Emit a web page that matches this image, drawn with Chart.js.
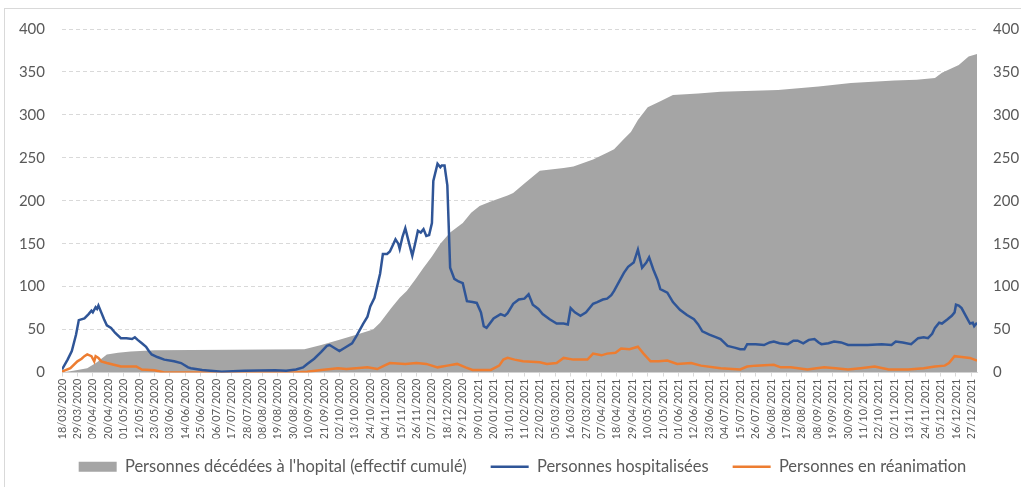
<!DOCTYPE html>
<html>
<head>
<meta charset="utf-8">
<script src="https://cdn.jsdelivr.net/npm/chart.js@4.4.0/dist/chart.umd.min.js"></script>
<style>
  html, body { margin: 0; background: #fff; overflow: hidden; }
  #frame { position: absolute; left: 4px; top: 8px; width: 1040px; height: 500px; border: 1px solid #d9d9d9; }
  #wrap { position: absolute; left: 0; top: 0; width: 1021px; height: 487px; }
</style>
</head>
<body>
<div id="frame"></div>
<div id="wrap"><canvas id="chart1"></canvas></div>
<script>
// days counted from 18/03/2020
const deathDays = [0, 8, 18, 25, 32, 40, 49, 66, 120, 173, 185, 198, 210, 222, 227, 235, 241, 246, 252, 258, 264, 270, 277, 286, 292, 298, 306, 318, 322, 330, 341, 358, 365, 379, 389, 394, 401, 406, 411, 418, 427, 436, 454, 470, 511, 540, 563, 594, 610, 623, 628, 640, 647, 653];
const deathValues = [0, 2, 5, 12, 21, 23, 24.5, 26, 26.5, 27, 32, 38, 44, 50, 58, 75, 87, 95, 108, 122, 135, 150, 163, 174, 186, 194, 199, 206, 209, 220, 235, 238, 240, 248, 256, 260, 272, 280, 294, 309, 316, 323, 325, 327, 329, 333, 337, 340, 341, 343, 349, 358, 368, 371];

const hospDays = [0, 4, 7, 10, 12, 16, 19, 21, 22, 24, 25, 26, 28, 30, 32, 35, 38, 42, 46, 50, 52, 54, 57, 60, 62, 64, 68, 73, 80, 85, 90, 92, 100, 114, 130, 152, 160, 167, 172, 175, 180, 185, 189, 191, 195, 198, 203, 207, 210, 215, 218, 220, 223, 227, 229, 232, 234, 236, 238, 240, 241, 243, 245, 247, 250, 252, 254, 256, 258, 260, 262, 264, 265, 268, 270, 271, 273, 275, 277, 280, 283, 286, 289, 293, 296, 299, 301, 303, 308, 313, 316, 318, 322, 326, 330, 333, 336, 340, 343, 348, 353, 358, 361, 363, 366, 370, 374, 379, 382, 386, 389, 392, 394, 397, 401, 404, 408, 411, 414, 417, 419, 422, 425, 427, 432, 436, 441, 446, 451, 454, 457, 462, 467, 470, 475, 480, 484, 487, 489, 495, 501, 505, 508, 512, 518, 522, 525, 529, 533, 537, 540, 542, 547, 551, 556, 561, 575, 585, 592, 595, 600, 606, 611, 615, 618, 621, 623, 626, 628, 632, 635, 637, 638, 640, 642, 645, 648, 650, 651, 653];
const hospValues = [3.5, 15, 25, 44, 61, 63, 68, 72, 70, 76, 74, 78, 70, 62, 55, 52, 46, 40, 40, 39, 41, 38, 34, 30, 25, 21, 18, 15, 13, 11, 6, 5, 3, 1, 2, 2.5, 2, 3.5, 6, 10, 16, 24, 31, 32, 28, 25, 30, 34, 42, 57, 65, 77, 87, 115, 138, 138, 141, 148, 155, 150, 144, 158, 168, 155, 136, 150, 165, 163, 167, 159, 160, 174, 223, 243, 239, 241, 241, 218, 122, 109, 106, 104, 83, 82, 81, 70, 54, 52, 63, 68, 66, 69, 80, 85, 86, 91, 79, 74, 68, 62, 57, 57, 56, 75, 70, 66, 70, 80, 82, 85, 86, 90, 95, 104, 116, 123, 128, 143, 122, 128, 134, 120, 108, 97, 93, 82, 73, 67, 62, 56, 48, 44, 41, 39, 31, 29, 27, 27, 33, 33, 32, 35, 36, 34, 33, 37, 37, 34, 38, 39, 35, 33, 34, 36, 35, 32, 32, 33, 32, 36, 35, 33, 40, 41, 40, 45, 52, 58, 57, 62, 66, 70, 79, 78, 75, 66, 57, 58, 54, 58];

const icuDays = [0, 6, 11, 14, 16, 18, 21, 23, 24, 26, 28, 32, 37, 42, 53, 57, 66, 73, 166, 175, 185, 197, 203, 210, 218, 225, 230, 234, 245, 253, 260, 268, 275, 282, 288, 293, 306, 312, 315, 318, 323, 329, 341, 346, 353, 358, 365, 375, 379, 385, 389, 395, 399, 405, 411, 415, 420, 426, 432, 439, 449, 456, 470, 484, 489, 495, 508, 513, 520, 532, 544, 552, 561, 570, 580, 590, 604, 615, 623, 630, 633, 637, 642, 648, 653];
const icuValues = [1, 5, 13, 16, 19, 21, 19, 13, 19, 17, 13, 11, 9, 7, 7, 3.5, 2.5, 0, 0, 1, 3, 5, 4, 5, 6, 4, 8, 11, 10, 11, 10, 6, 8, 10, 6, 3, 3, 8, 15, 17, 15, 13, 12, 10, 11, 17, 15, 15, 22, 20, 22, 23, 28, 27, 30, 22, 13, 13, 14, 10, 11, 8, 5, 3.5, 7, 8, 9, 6, 6, 3.5, 6, 5, 3.5, 5, 7, 3.5, 3.5, 5, 7, 8, 11, 19, 18, 17, 14];

const yTicks = [0, 50, 100, 150, 200, 250, 300, 350, 400];
const labelNames = ["Personnes décédées à l'hopital (effectif cumulé)", "Personnes hospitalisées", "Personnes en réanimation"];

const startDate = Date.UTC(2020, 2, 18);
function dayLabel(n) {
  const d = new Date(startDate + n * 86400000);
  const dd = String(d.getUTCDate()).padStart(2, '0');
  const mm = String(d.getUTCMonth() + 1).padStart(2, '0');
  return dd + '/' + mm + '/' + d.getUTCFullYear();
}

function toPoints(days, values) {
  return days.map((d, i) => ({x: d, y: values[i]}));
}

// move the legend a bit (excel frame is wider than the picture)
const legendShift = {
  id: 'legendShift',
  afterLayout(chart) {
    const lg = chart.legend;
    lg.top -= 4; lg.bottom -= 4;
    lg.left += 12; lg.right += 12;
  }
};

Chart.defaults.font.family = 'Lato, "Liberation Sans", sans-serif';
Chart.defaults.color = '#595959';

const ctx = document.getElementById('chart1').getContext('2d');
const myChart = new Chart(ctx, {
  type: 'line',
  plugins: [legendShift],
  data: {
    datasets: [
      {
        label: labelNames[0],
        data: toPoints(deathDays, deathValues),
        backgroundColor: '#a5a5a5',
        borderColor: '#a5a5a5',
        borderWidth: 0,
        fill: 'origin',
        pointRadius: 0,
        pointStyle: 'rect',
        order: 1,
        yAxisID: 'y2',
      },
      {
        label: labelNames[1],
        data: toPoints(hospDays, hospValues),
        borderColor: '#2f5597',
        backgroundColor: '#2f5597',
        borderWidth: 2.5,
        fill: false,
        pointRadius: 0,
        pointStyle: 'line',
        order: 0,
      },
      {
        label: labelNames[2],
        data: toPoints(icuDays, icuValues),
        borderColor: '#ed7d31',
        backgroundColor: '#ed7d31',
        borderWidth: 2.5,
        fill: false,
        pointRadius: 0,
        pointStyle: 'line',
        order: 0,
      },
    ],
  },
  options: {
    responsive: true,
    maintainAspectRatio: false,
    animation: false,
    layout: { padding: { top: 29, left: 0, right: 0, bottom: -2 } },
    plugins: {
      tooltip: { enabled: false },
      legend: {
        position: 'bottom',
        labels: {
          usePointStyle: true,
          pointStyleWidth: 38,
          boxHeight: 10,
          padding: 24,
          font: { size: 16.5 },
          color: '#595959',
          sort: (a, b) => a.datasetIndex - b.datasetIndex,
        },
      },
    },
    scales: {
      x: {
        type: 'linear',
        min: 0,
        max: 653,
        afterFit: (scale) => { scale.height = 66; },
        ticks: {
          stepSize: 11,
          includeBounds: false,
          autoSkip: false,
          minRotation: 90,
          maxRotation: 90,
          padding: 2,
          font: { size: 11 },
          callback: (v) => dayLabel(v),
        },
        grid: { drawOnChartArea: false, tickLength: 4, color: '#d9d9d9' },
        border: { color: '#d9d9d9' },
      },
      y: {
        position: 'left',
        min: 0,
        max: 400,
        afterFit: (scale) => { scale.width = 62; },
        afterBuildTicks: (scale) => { scale.ticks = yTicks.map(v => ({value: v})); },
        ticks: { padding: 17, font: { size: 15 } },
        grid: { color: '#d9d9d9', tickLength: 0 },
        border: { display: false, dash: [4, 3] },
      },
      y2: {
        position: 'right',
        min: 0,
        max: 400,
        afterFit: (scale) => { scale.width = 44; },
        afterBuildTicks: (scale) => { scale.ticks = yTicks.map(v => ({value: v})); },
        ticks: { padding: 8, font: { size: 15 } },
        grid: { display: false },
        border: { display: false },
      },
    },
  },
});
</script>
</body>
</html>
